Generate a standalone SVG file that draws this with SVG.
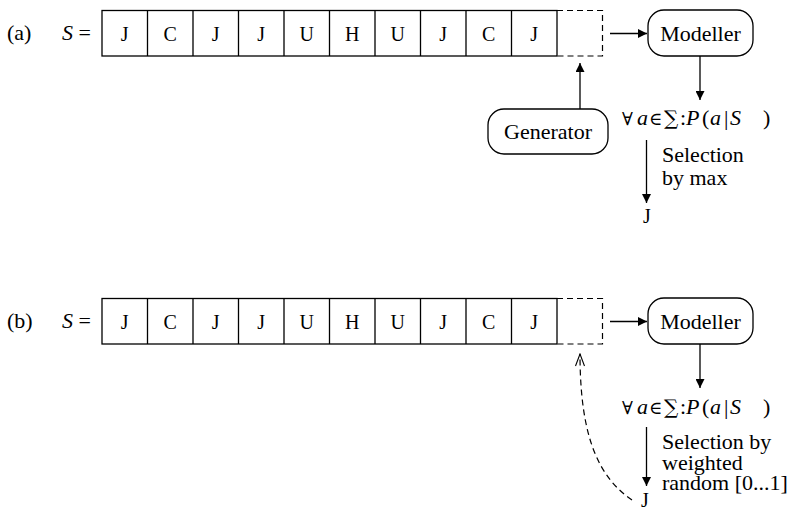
<svg xmlns="http://www.w3.org/2000/svg" width="793" height="508" viewBox="0 0 793 508">
<defs>
<style>
text{font-family:"Liberation Serif","Times New Roman",serif;fill:#000}
.cell{font-size:20px;text-anchor:middle}
.lbl{font-size:22px}
.c{text-anchor:middle}
.it{font-style:italic}
.sym{font-family:"DejaVu Serif",serif;font-size:18px}
.big{font-family:"DejaVu Serif",serif;font-size:20px}
.box{fill:#fff;stroke:#000;stroke-width:1.3}
.ln{fill:none;stroke:#000;stroke-width:1.3}
.dash{fill:none;stroke:#000;stroke-width:1.2;stroke-dasharray:6 4}
</style>
<marker id="ah" viewBox="0 0 10 10" refX="10" refY="5" markerWidth="12" markerHeight="9" markerUnits="userSpaceOnUse" orient="auto"><path d="M0,0 L10,5 L0,10 Z" fill="#000"/></marker>
<marker id="oh" viewBox="0 0 12 10" refX="12" refY="5" markerWidth="14" markerHeight="10" markerUnits="userSpaceOnUse" orient="auto"><path d="M0,0.5 L12,5 L0,9.5" fill="none" stroke="#000" stroke-width="1.1"/></marker>
</defs>
<rect width="793" height="508" fill="#fff"/>

<g id="rowA">
<text class="lbl" x="7" y="40">(a)</text>
<text class="lbl" x="62" y="40"><tspan class="it">S</tspan> =</text>
<g id="seqA">
<rect class="box" x="102" y="10.5" width="455" height="45.5"/>
<path class="ln" d="M147.5,10.5V56M193,10.5V56M238.5,10.5V56M284,10.5V56M329.5,10.5V56M375,10.5V56M420.5,10.5V56M466,10.5V56M511.5,10.5V56"/>
<path class="dash" d="M557,10.5H602.5V56H557"/>
<text class="cell" x="124.75" y="40.5">J</text>
<text class="cell" x="170.25" y="40.5">C</text>
<text class="cell" x="215.75" y="40.5">J</text>
<text class="cell" x="261.25" y="40.5">J</text>
<text class="cell" x="306.75" y="40.5">U</text>
<text class="cell" x="352.25" y="40.5">H</text>
<text class="cell" x="397.75" y="40.5">U</text>
<text class="cell" x="443.25" y="40.5">J</text>
<text class="cell" x="488.75" y="40.5">C</text>
<text class="cell" x="534.25" y="40.5">J</text>
</g>
<g id="modellerA">
<rect class="box" x="648" y="10" width="105" height="46" rx="16"/>
<text class="lbl c" x="700.5" y="41">Modeller</text>
</g>
<g id="generatorA">
<rect class="box" x="488" y="109" width="120" height="45" rx="16"/>
<text class="lbl c" x="548" y="139">Generator</text>
</g>
<g id="probA">
<text class="lbl" y="125"><tspan x="622" class="sym">∀</tspan><tspan x="637" class="it">a</tspan><tspan x="649" class="sym">∈</tspan><tspan x="664" class="big">∑</tspan><tspan x="680">:</tspan><tspan x="686" class="it">P</tspan><tspan x="702">(</tspan><tspan x="710" class="it">a</tspan><tspan x="724">|</tspan><tspan x="730" class="it">S</tspan><tspan x="763">)</tspan></text>
</g>
<g id="selA">
<text class="lbl" x="662" y="162">Selection</text>
<text class="lbl" x="662" y="185">by max</text>
</g>
<g id="outA">
<text class="cell" x="647" y="223">J</text>
</g>
</g>

<g id="rowB">
<text class="lbl" x="7" y="328">(b)</text>
<text class="lbl" x="62" y="328"><tspan class="it">S</tspan> =</text>
<g id="seqB">
<rect class="box" x="102" y="298.5" width="455" height="45.5"/>
<path class="ln" d="M147.5,298.5V344M193,298.5V344M238.5,298.5V344M284,298.5V344M329.5,298.5V344M375,298.5V344M420.5,298.5V344M466,298.5V344M511.5,298.5V344"/>
<path class="dash" d="M557,298.5H602.5V344H557"/>
<text class="cell" x="124.75" y="328.5">J</text>
<text class="cell" x="170.25" y="328.5">C</text>
<text class="cell" x="215.75" y="328.5">J</text>
<text class="cell" x="261.25" y="328.5">J</text>
<text class="cell" x="306.75" y="328.5">U</text>
<text class="cell" x="352.25" y="328.5">H</text>
<text class="cell" x="397.75" y="328.5">U</text>
<text class="cell" x="443.25" y="328.5">J</text>
<text class="cell" x="488.75" y="328.5">C</text>
<text class="cell" x="534.25" y="328.5">J</text>
</g>
<g id="modellerB">
<rect class="box" x="648" y="298" width="105" height="46" rx="16"/>
<text class="lbl c" x="700.5" y="329">Modeller</text>
</g>
<g id="probB">
<text class="lbl" y="414"><tspan x="622" class="sym">∀</tspan><tspan x="637" class="it">a</tspan><tspan x="649" class="sym">∈</tspan><tspan x="664" class="big">∑</tspan><tspan x="680">:</tspan><tspan x="686" class="it">P</tspan><tspan x="702">(</tspan><tspan x="710" class="it">a</tspan><tspan x="724">|</tspan><tspan x="730" class="it">S</tspan><tspan x="763">)</tspan></text>
</g>
<g id="selB">
<text class="lbl" x="662" y="449">Selection by</text>
<text class="lbl" x="662" y="470">weighted</text>
<text class="lbl" x="662" y="490">random [0...1]</text>
</g>
<g id="outB">
<text class="cell" x="645" y="507">J</text>
</g>
</g>

<g id="connectors">
<line class="ln" x1="610" y1="33.5" x2="647" y2="33.5" marker-end="url(#ah)"/>
<line class="ln" x1="700" y1="56" x2="700" y2="100" marker-end="url(#ah)"/>
<line class="ln" x1="580" y1="109" x2="580" y2="63" marker-end="url(#ah)"/>
<line class="ln" x1="646.5" y1="140" x2="646.5" y2="203" marker-end="url(#ah)"/>
<line class="ln" x1="610" y1="321.5" x2="647" y2="321.5" marker-end="url(#ah)"/>
<line class="ln" x1="700" y1="344" x2="700" y2="388" marker-end="url(#ah)"/>
<line class="ln" x1="646.5" y1="427" x2="646.5" y2="486" marker-end="url(#ah)"/>
<path class="dash" d="M632,500 C600,478 580,440 580,354" marker-end="url(#oh)"/>
</g>
</svg>
